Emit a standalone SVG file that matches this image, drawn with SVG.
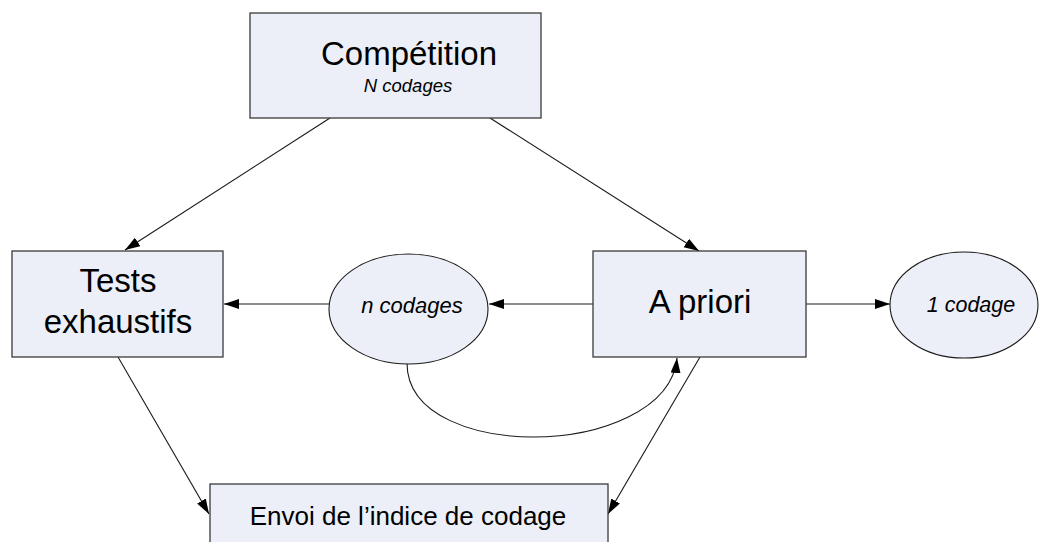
<svg xmlns="http://www.w3.org/2000/svg" width="1039" height="542" viewBox="0 0 1039 542">
<style>
.box{fill:#ECEFF8;stroke:#3a3a3a;stroke-width:1.3}
.ell{fill:#ECEFF8;stroke:#1a1a1a;stroke-width:1.1}
.t{font-family:"Liberation Sans",Arial,sans-serif;fill:#000;text-anchor:middle}
.big{font-size:33px}
.it{font-style:italic}
.edge{fill:none;stroke:#1a1a1a;stroke-width:1.1;marker-end:url(#ah)}
</style>
<defs>
<marker id="ah" markerUnits="userSpaceOnUse" markerWidth="16" markerHeight="11" refX="15" refY="5" orient="auto">
<path d="M0,0 L15,5 L0,10 z" fill="#000"/>
</marker>
</defs>
<rect width="1039" height="542" fill="#fff"/>
<g id="connectors">
<line class="edge" x1="330" y1="118" x2="125" y2="250"/>
<line class="edge" x1="490" y1="118" x2="699" y2="251"/>
<line class="edge" x1="593" y1="304" x2="489" y2="304"/>
<line class="edge" x1="329" y1="304" x2="224" y2="304"/>
<line class="edge" x1="806" y1="304" x2="890" y2="304"/>
<line class="edge" x1="118" y1="357" x2="209" y2="514"/>
<line class="edge" x1="700" y1="357" x2="608" y2="514"/>
<path class="edge" d="M407,363 C407,418 480,437 533,437 C600,437 672,410 677,358"/>
</g>
<g id="competition">
<rect class="box" x="250" y="13" width="291" height="105"/>
<text class="t big" x="409" y="65">Compétition</text>
<text class="t it" x="408" y="92" font-size="18.5">N codages</text>
</g>
<g id="tests">
<rect class="box" x="12" y="251" width="211" height="106"/>
<text class="t big" x="118" y="292">Tests</text>
<text class="t big" x="118" y="333">exhaustifs</text>
</g>
<g id="n-codages">
<ellipse class="ell" cx="408.5" cy="309" rx="79.5" ry="55"/>
<text class="t it" x="412" y="313" font-size="22">n codages</text>
</g>
<g id="apriori">
<rect class="box" x="593" y="251" width="213" height="106"/>
<text class="t big" x="700" y="313">A priori</text>
</g>
<g id="un-codage">
<ellipse class="ell" cx="964" cy="305" rx="74" ry="53"/>
<text class="t it" x="971" y="312" font-size="21.5">1 codage</text>
</g>
<g id="envoi">
<rect class="box" x="210" y="484" width="398" height="70"/>
<text class="t" x="408" y="525" font-size="26">Envoi de l’indice de codage</text>
</g>
</svg>
